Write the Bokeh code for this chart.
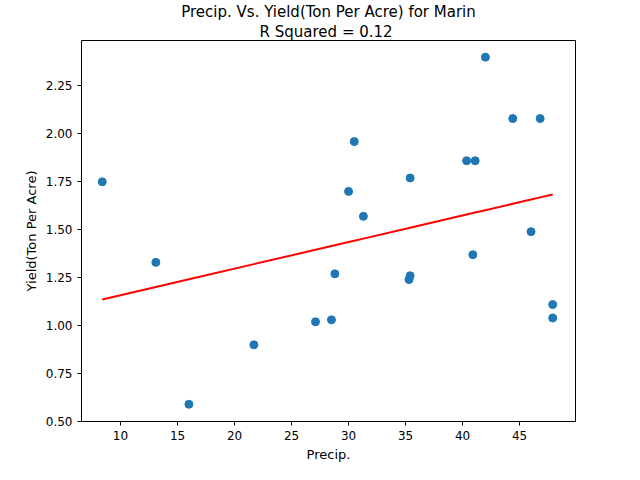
import numpy as np
from bokeh.plotting import figure
from bokeh.models import Title, FixedTicker, Range1d, CustomJSTickFormatter
from bokeh.embed import file_html
from bokeh.resources import INLINE

precip = [8.4, 13.1, 16.0, 21.7, 27.1, 28.5, 28.8, 30.0, 30.5, 31.3, 35.3, 35.4, 35.4,
          40.35, 41.1, 40.9, 42.0, 44.4, 46.0, 46.8, 47.9, 47.9]
yield_ = [1.75, 1.33, 0.59, 0.90, 1.02, 1.03, 1.27, 1.70, 1.96, 1.57, 1.24, 1.26, 1.77,
          1.86, 1.86, 1.37, 2.40, 2.08, 1.49, 2.08, 1.11, 1.04]

m, b = np.polyfit(precip, yield_, 1)
xs = np.array(precip)
ys = m * xs + b

p = figure(width=624, height=464, output_backend="svg", toolbar_location=None,
           x_range=Range1d(6.58, 49.9), y_range=Range1d(0.5, 2.487),
           min_border_left=81, min_border_right=49, min_border_top=6, min_border_bottom=37)
for txt in ["R Squared =  0.12", "Precip. Vs. Yield(Ton Per Acre) for Marin"]:
    p.add_layout(Title(text=txt, align="center", text_font_size="15px", text_color="black",
                       text_font_style="normal", text_font="DejaVu Sans",
                       standoff=0, offset=0), "above")
p.grid.visible = False
p.outline_line_color = "black"
p.line(xs, ys, line_color="red", line_width=2)
p.scatter(precip, yield_, size=8, color="#1f77b4")
p.xaxis.ticker = FixedTicker(ticks=[10, 15, 20, 25, 30, 35, 40, 45])
p.yaxis.ticker = FixedTicker(ticks=[0.5, 0.75, 1.0, 1.25, 1.5, 1.75, 2.0, 2.25])
p.yaxis.formatter = CustomJSTickFormatter(code="return tick.toFixed(2)")
p.xaxis.axis_label = "Precip."
p.yaxis.axis_label = "Yield(Ton Per Acre)"
for ax in (p.xaxis, p.yaxis):
    ax.axis_label_text_font_style = "normal"
    ax.axis_label_text_font_size = "13px"
    ax.axis_label_text_font = "DejaVu Sans"
    ax.axis_label_text_color = "black"
    ax.major_label_text_font = "DejaVu Sans"
    ax.major_label_text_font_size = "12px"
    ax.major_label_text_color = "black"
    ax.minor_tick_line_color = None
    ax.major_tick_in = 0
    ax.major_tick_out = 4
    ax.axis_line_color = None
    ax.axis_label_standoff = 4

open("out.html", "w").write(file_html(p, INLINE))
